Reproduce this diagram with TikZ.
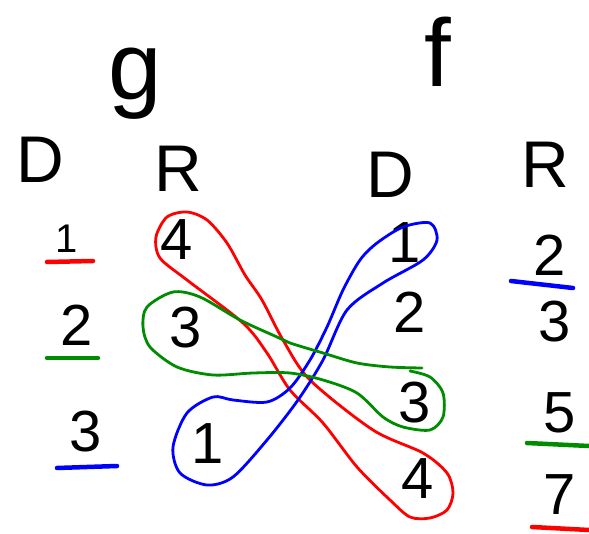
\documentclass[tikz,border=0pt]{standalone}
\usepackage{fontspec}
\setmainfont{Liberation Sans}
\definecolor{hred}{RGB}{255,0,0}
\definecolor{hgreen}{RGB}{0,140,0}
\definecolor{hblue}{RGB}{0,0,255}
\begin{document}
\begin{tikzpicture}[x=1pt,y=-1pt,
  lbl/.style={inner sep=0pt,font=\fontsize{58}{60}\selectfont},
  small/.style={inner sep=0pt,font=\fontsize{40}{42}\selectfont},
  head/.style={inner sep=0pt,font=\fontsize{66}{68}\selectfont},
  fname/.style={inner sep=0pt,font=\fontsize{96}{98}\selectfont},
  loop/.style={line width=2.8pt,line cap=round,line join=round},
  uline/.style={line width=4.5pt,line cap=round}]
\useasboundingbox (0,0) rectangle (589,534);
% function names
\node[fname] (g) at (135,84) {g};
\node[fname] (f) at (438,52) {f};
% headings
\node[head] (D1) at (40,160) {D};
\node[head] (R1) at (178,169) {R};
\node[head] (D2) at (390,175) {D};
\node[head] (R2) at (545,165) {R};
% domain of g
\node[small] (a1) at (67,239) {1};
\node[lbl] (a2) at (77,325) {2};
\node[lbl] (a3) at (86,432) {3};
% range of g
\node[lbl] (b4) at (177,240) {4};
\node[lbl] (b3) at (186,328) {3};
\node[lbl] (b1) at (208,444) {1};
% domain of f
\node[lbl] (c1) at (405,243) {1};
\node[lbl] (c2) at (410,312) {2};
\node[lbl] (c3) at (415,403) {3};
\node[lbl] (c4) at (418,479) {4};
% range of f
\node[lbl] (d2) at (550,255) {2};
\node[lbl] (d3) at (555,322) {3};
\node[lbl] (d5) at (560,413) {5};
\node[lbl] (d7) at (560,495) {7};
% underlines
\draw[uline,hred] (47,262) -- (93,261);
\draw[uline,hgreen] (47,358) -- (98,358);
\draw[uline,hblue] (57,468) -- (117,466);
\draw[uline,hblue] (511,281) -- (573,288);
\draw[uline,hgreen] (527,443) -- (589,446);
\draw[uline,hred] (532,527) -- (589,530);
% red loop: 4 -- 4
\draw[loop,hred] plot[smooth cycle,tension=0.5] coordinates {
 (187,212) (207,220) (227,243) (245,275) (262,300) (283,340) (310,380)
 (373,430) (423,453) (447,473) (453,493) (447,510) (430,518) (410,517)
 (390,500) (357,467) (323,423) (290,390) (267,353) (243,323) (187,280)
 (160,258) (156,237) (167,217)};
% blue loop: 1 -- 1
\draw[loop,hblue] plot[smooth cycle,tension=0.5] coordinates {
 (213,397) (233,400) (267,402) (290,388) (310,360) (327,327) (343,290)
 (360,260) (377,243) (403,227) (430,223) (437,240) (423,260) (383,283)
 (347,310) (323,360) (298,400) (267,440) (233,477) (207,485) (180,473)
 (173,447) (187,413)};
% green loop: 3 -- 3
\draw[loop,hgreen] plot[smooth,tension=0.5] coordinates {
 (422,368) (390,367) (357,363) (323,353) (290,343) (277,337) (240,320)
 (200,297) (173,292) (147,307) (143,327) (150,347) (177,367) (213,375)
 (253,373) (290,373) (323,380) (357,393) (383,417) (403,427) (430,430)
 (443,417) (443,393) (430,377) (410,371)};
\end{tikzpicture}
\end{document}
